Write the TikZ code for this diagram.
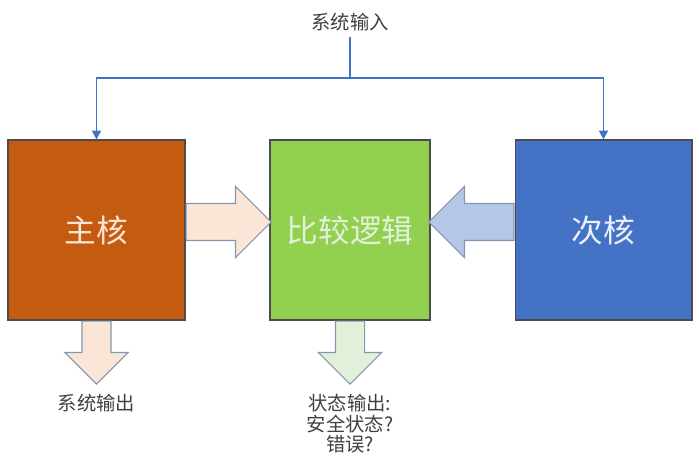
\documentclass[tikz,border=0pt]{standalone}
\usepackage{fontspec}
\setmainfont{Noto Sans CJK SC}
\usepackage{tikz}
\usetikzlibrary{arrows.meta, positioning, shapes.arrows, calc}
\usepackage{xcolor}
\definecolor{coreorange}{HTML}{C55A11}
\definecolor{logicgreen}{HTML}{92D050}
\definecolor{coreblue}{HTML}{4472C4}
\definecolor{peach}{HTML}{FBE5D6}
\definecolor{palegreen}{HTML}{E2F0D9}
\definecolor{paleblue}{HTML}{B4C7E7}
\definecolor{arrowgray}{HTML}{8497B0}
\definecolor{textgray}{HTML}{404040}
\tikzset{%
	every core/.style={
		draw=gray!60!black,
		line width=0.6pt,
		minimum height=3.6cm,
		inner sep=0pt,
		font=\fontsize{18}{22}\selectfont
	},
	block arrow/.style={
		single arrow,
		draw=arrowgray,
		line width=0.6pt,
		single arrow head extend=0.34cm,
		anchor=tail
	},
}

\begin{document}
\begin{tikzpicture}[
				x=0.02cm, y=0.02cm,
				input line/.style={draw=coreblue, line width=1.1pt},
				label text/.style={text=textgray, font=\fontsize{11}{11.5}\selectfont, align=center}
				]
				\useasboundingbox (0,0) rectangle (699,463);
				
				% The three blocks
				\node[every core, fill=coreorange, text=peach, minimum width=3.54cm] (main) at (96.5,233) {主核};
				\node[every core, fill=logicgreen, text=palegreen, minimum width=3.2cm] (logic) at (350,233) {比较逻辑};
				\node[every core, fill=coreblue, text=white!90!coreblue, minimum width=3.54cm] (sub) at (603.5,233) {次核};
				
				% System input
				\node[label text] (input) at (350,441) {系统输入};
				\coordinate (split) at (350,385);
				\draw[input line] (input.south) -- (split);
				\draw[input line, -{Triangle[width=5pt,length=5pt]}] (split) -| (main.north);
				\draw[input line, -{Triangle[width=5pt,length=5pt]}] (split) -| (sub.north);
				
				% Block arrows
				\node[block arrow, fill=peach, inner sep=0.36cm, minimum height=1.7cm] (main to logic) at ($(main.east)+(0,8)$) {};
				\node[block arrow, fill=paleblue, shape border rotate=180, inner sep=0.36cm, minimum height=1.7cm] (sub to logic) at ($(sub.west)+(0,8)$) {};
				\node[block arrow, fill=peach, shape border rotate=270, inner sep=0.28cm, minimum height=1.26cm] (main out) at (main.south) {};
				\node[block arrow, fill=palegreen, shape border rotate=270, inner sep=0.28cm, minimum height=1.26cm] (logic out) at (logic.south) {};
				
				% Outputs
				\node[label text, below=2pt of main out.tip] (sys output) {系统输出};
				\node[label text, below=2pt of logic out.tip] (state output) {状态输出:\\安全状态?\\错误?};
				
			\end{tikzpicture}
\end{document}
